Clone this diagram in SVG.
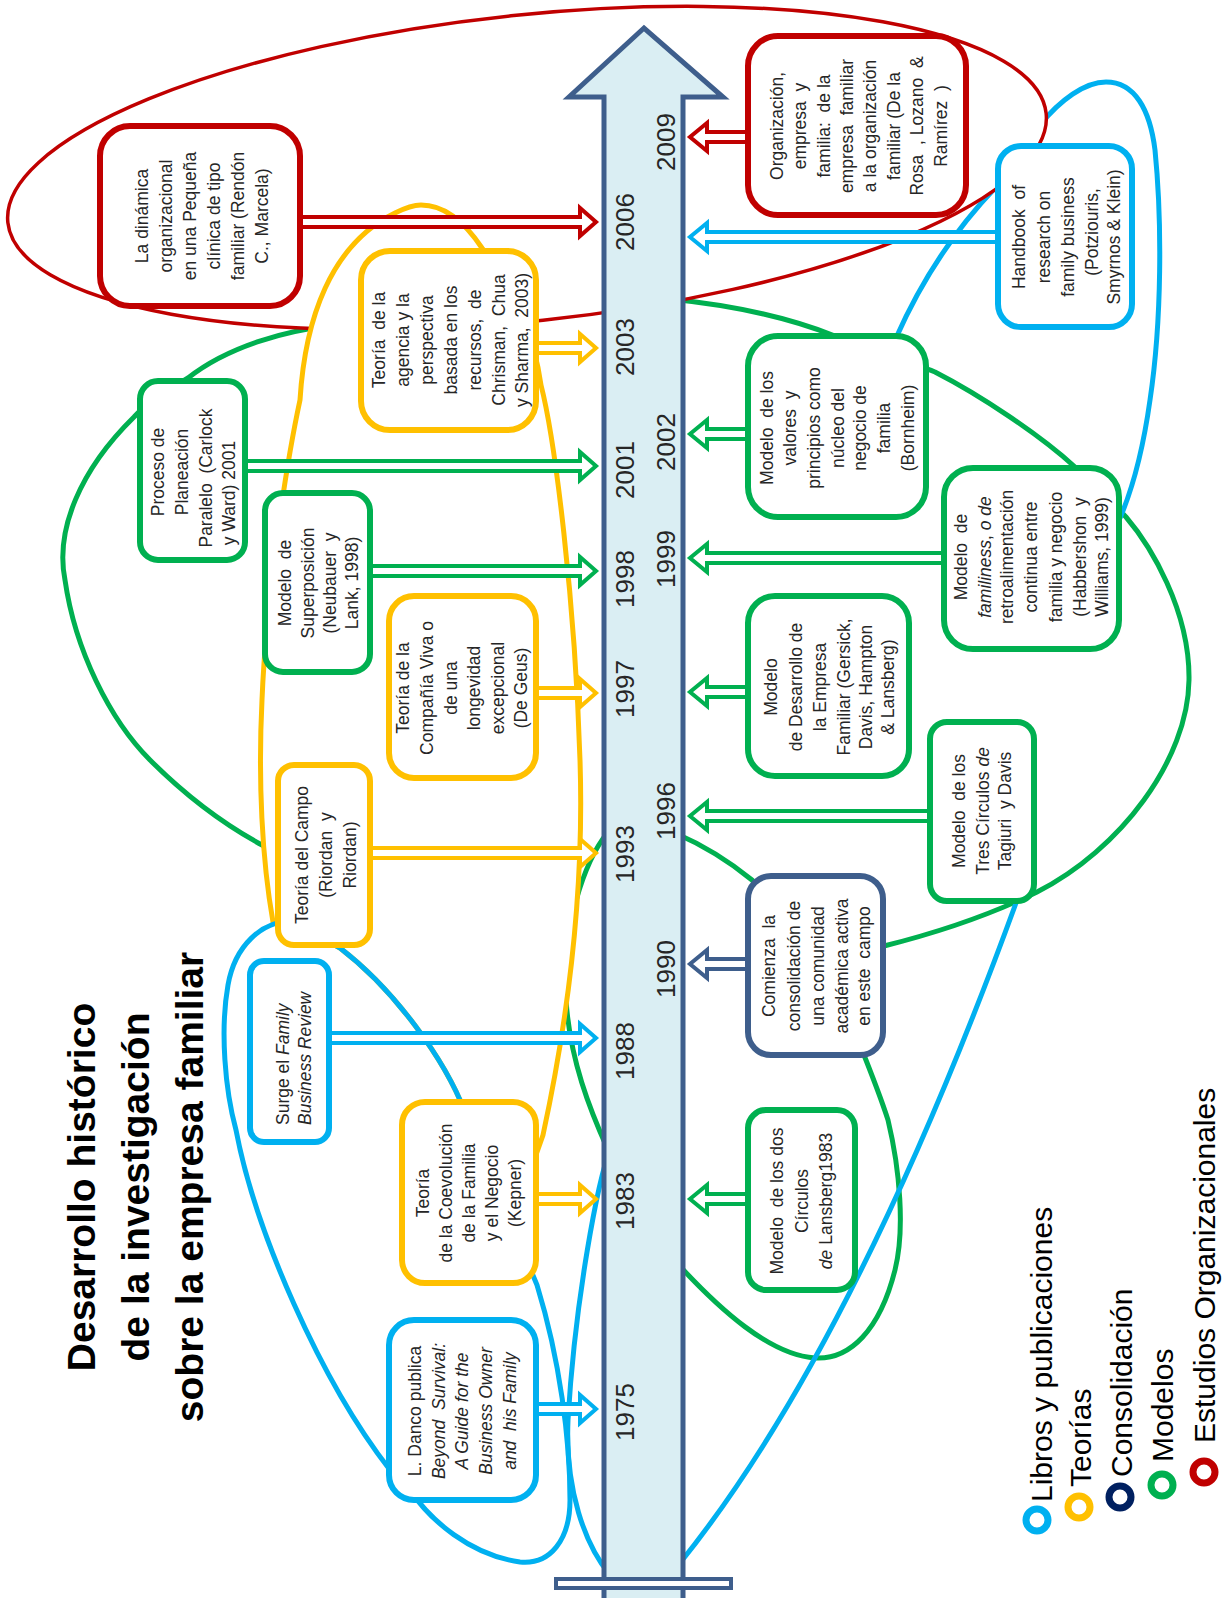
<svg xmlns="http://www.w3.org/2000/svg" width="1231" height="1598" viewBox="0 0 1231 1598">
<style>
.c{fill:none;stroke-width:5;stroke-linecap:round;stroke-linejoin:round}
.g{stroke:#00B050}.b{stroke:#00B0F0}.y{stroke:#FFC000}.r{stroke:#C00000}.n{stroke:#3E5E8C}
.box{fill:#fff;stroke-width:6}
.ar{fill:#fff;stroke-width:4;stroke-linejoin:miter}
.t{font-family:"Liberation Sans",Arial,sans-serif;font-size:17.5px;fill:#262626;text-anchor:middle}
.yr{font-family:"Liberation Sans",Arial,sans-serif;font-size:26px;fill:#262626;text-anchor:middle}
.ttl{font-family:"Liberation Sans",Arial,sans-serif;font-size:39px;font-weight:bold;fill:#000;text-anchor:middle}
.lg{font-family:"Liberation Sans",Arial,sans-serif;font-size:30px;fill:#000}
.i{font-style:italic}
.ring{fill:none;stroke-width:7}
</style>
<rect width="1231" height="1598" fill="#fff"/>

<g id="clusters">
<path class="c g" d="M 670,299 C 730,305 790,318 835,336 C 870,350 905,360 935,372 C 980,395 1040,435 1075,467 C 1095,485 1110,500 1126,517 C 1150,545 1190,610 1189,680 C 1188,760 1120,850 1037,892 C 990,915 940,932 884,946"/>
<path class="c g" d="M 330,326 C 290,330 230,345 188,378 C 160,395 145,405 134,417 C 80,470 55,530 65,580 C 75,650 110,720 150,760 C 185,795 225,825 262,845 L 290,852"/>
<path class="c g" d="M 675,833 C 705,846 730,862 752,880 L 775,905"/>
<path class="c g" d="M 608,832 C 585,860 560,930 566,1000 C 570,1060 590,1110 608,1150"/>
<path class="c g" d="M 860,1045 C 870,1070 880,1095 888,1120 C 900,1170 905,1230 895,1270 C 880,1330 850,1360 815,1358 C 770,1355 720,1310 676,1262"/>
<path class="c b" d="M 680,1563 Q 854,1347 1016,903"/>
<path class="c b" d="M 1040,125 C 1060,100 1085,82 1106,82 C 1135,82 1150,110 1155,150 C 1162,220 1162,320 1150,400 C 1143,450 1132,490 1120,518"/>
<path class="c b" d="M 995,188 Q 934,252 896,338"/>
<path class="c b" d="M 610,1150 C 598,1180 575,1300 568,1420 C 565,1490 585,1545 610,1575"/>
<ellipse cx="527" cy="168" rx="522" ry="153" transform="rotate(-6 527 168)" fill="#fff" stroke="#C00000" stroke-width="3.5"/>
<path class="y" fill="#fff" stroke-width="5" d="M 421,205 C 450,205 470,230 482,248 C 515,290 535,340 541,385 C 555,440 575,600 580,760 C 584,880 570,1010 543,1135 L 520,1200 L 465,1112 C 445,1060 395,990 340,948 L 300,925 L 273,922 C 262,860 258,780 262,700 C 266,600 285,470 300,400 C 305,320 330,245 395,213 C 405,208 413,205 421,205 Z"/>
<path class="c b" d="M 290,921 C 262,922 235,945 228,985 C 220,1030 225,1090 236,1130 C 255,1230 320,1380 390,1470 L 410,1490 C 430,1520 470,1555 520,1562 C 550,1565 570,1540 570,1500 C 570,1440 560,1360 537,1285 L 465,1112 C 445,1060 395,990 340,948 L 300,925"/>
</g>

<g id="timeline">
<polygon points="604,1610 604,97 569,97 644,28 723,97 683,97 683,1610" fill="#DAEEF3" stroke="#3E5E8C" stroke-width="5" stroke-linejoin="miter"/>
<rect x="556" y="1579" width="175" height="9" fill="#fff" stroke="#3E5E8C" stroke-width="4"/>
<text class="yr" transform="rotate(-90)"><tspan x="-1412" y="634">1975</tspan><tspan x="-1201" y="634">1983</tspan><tspan x="-1051" y="634">1988</tspan><tspan x="-854" y="634">1993</tspan><tspan x="-689" y="634">1997</tspan><tspan x="-579" y="634">1998</tspan><tspan x="-470" y="634">2001</tspan><tspan x="-347" y="634">2003</tspan><tspan x="-222" y="634">2006</tspan><tspan x="-969" y="675">1990</tspan><tspan x="-811" y="675">1996</tspan><tspan x="-559" y="675">1999</tspan><tspan x="-442" y="675">2002</tspan><tspan x="-142" y="675">2009</tspan></text>
</g>

<g id="connectors">
<polygon class="ar r" points="300,217 580,217 580,208 596,222 580,236 580,227 300,227"/>
<polygon class="ar y" points="536,343 580,343 580,334 596,348 580,362 580,353 536,353"/>
<polygon class="ar g" points="245,461 580,461 580,452 596,466 580,480 580,471 245,471"/>
<polygon class="ar g" points="370,566 580,566 580,557 596,571 580,585 580,576 370,576"/>
<polygon class="ar y" points="536,688 580,688 580,679 596,693 580,707 580,698 536,698"/>
<polygon class="ar y" points="370,848 580,848 580,839 596,853 580,867 580,858 370,858"/>
<polygon class="ar b" points="329,1033 580,1033 580,1024 596,1038 580,1052 580,1043 329,1043"/>
<polygon class="ar y" points="536,1194 580,1194 580,1185 596,1199 580,1213 580,1204 536,1204"/>
<polygon class="ar b" points="536,1404 580,1404 580,1395 596,1409 580,1423 580,1414 536,1414"/>
<polygon class="ar r" points="748,132 707,132 707,123 690,137 707,151 707,142 748,142"/>
<polygon class="ar b" points="998,232 707,232 707,223 690,237 707,251 707,242 998,242"/>
<polygon class="ar g" points="748,429 707,429 707,420 690,434 707,448 707,439 748,439"/>
<polygon class="ar g" points="944,553 707,553 707,544 690,558 707,572 707,563 944,563"/>
<polygon class="ar g" points="748,687 707,687 707,678 690,692 707,706 707,697 748,697"/>
<polygon class="ar g" points="930,811 707,811 707,802 690,816 707,830 707,821 930,821"/>
<polygon class="ar n" points="748,959 707,959 707,950 690,964 707,978 707,969 748,969"/>
<polygon class="ar g" points="748,1194 707,1194 707,1185 690,1199 707,1213 707,1204 748,1204"/>
</g>

<g id="n-dinamica"><rect class="box r" x="100" y="126" width="200" height="180" rx="30"/>
<text class="t" transform="rotate(-90)"><tspan x="-216" y="148">La dinámica</tspan><tspan x="-216" y="172">organizacional</tspan><tspan x="-216" y="196">en una Pequeña</tspan><tspan x="-216" y="220">clínica de tipo</tspan><tspan x="-216" y="244">familiar (Rendón</tspan><tspan x="-216" y="268">C., Marcela)</tspan></text></g>

<g id="n-agencia"><rect class="box y" x="361" y="251" width="175" height="179" rx="29"/>
<text class="t" transform="rotate(-90)"><tspan x="-340" y="385">Teoría&#160; de la</tspan><tspan x="-340" y="409">agencia y la</tspan><tspan x="-340" y="433">perspectiva</tspan><tspan x="-340" y="457">basada en los</tspan><tspan x="-340" y="481">recursos,&#160; de</tspan><tspan x="-340" y="505">Chrisman,&#160; Chua</tspan><tspan x="-340" y="528">y Sharma,&#160; 2003)</tspan></text></g>

<g id="n-proceso"><rect class="box g" x="140" y="381" width="105" height="179" rx="18"/>
<text class="t" transform="rotate(-90)"><tspan x="-472" y="164">Proceso de</tspan><tspan x="-472" y="188">Planeación</tspan><tspan x="-478" y="212">Paralelo&#160; (Carlock</tspan><tspan x="-493" y="235">y Ward) 2001</tspan></text></g>

<g id="n-superposicion"><rect class="box g" x="265" y="493" width="105" height="179" rx="18"/>
<text class="t" transform="rotate(-90)"><tspan x="-583" y="291">Modelo&#160; de</tspan><tspan x="-583" y="314">Superposición</tspan><tspan x="-583" y="336">(Neubauer&#160; y</tspan><tspan x="-583" y="358">Lank, 1998)</tspan></text></g>

<g id="n-degeus"><rect class="box y" x="389" y="596" width="147" height="182" rx="25"/>
<text class="t" transform="rotate(-90)"><tspan x="-688" y="409">Teoría de la</tspan><tspan x="-688" y="433">Compañía Viva o</tspan><tspan x="-688" y="457">de una</tspan><tspan x="-688" y="480">longevidad</tspan><tspan x="-688" y="504">excepcional</tspan><tspan x="-688" y="527">(De Geus)</tspan></text></g>

<g id="n-campo"><rect class="box y" x="278" y="765" width="92" height="180" rx="16"/>
<text class="t" transform="rotate(-90)"><tspan x="-855" y="308">Teoría del Campo</tspan><tspan x="-855" y="332">(Riordan&#160; y</tspan><tspan x="-855" y="356">Riordan)</tspan></text></g>

<g id="n-surge"><rect class="box b" x="250" y="961" width="79" height="181" rx="14"/>
<text class="t" transform="rotate(-90)" style="text-anchor:start"><tspan x="-1125" y="289">Surge el <tspan class="i">Family</tspan></tspan><tspan class="i" x="-1125" y="311">Business Review</tspan></text></g>

<g id="n-kepner"><rect class="box y" x="402" y="1102" width="134" height="181" rx="23"/>
<text class="t" transform="rotate(-90)"><tspan x="-1193" y="429">Teoría</tspan><tspan x="-1193" y="452">de la Coevolución</tspan><tspan x="-1193" y="475">de la Familia</tspan><tspan x="-1193" y="498">y el Negocio</tspan><tspan x="-1193" y="521">(Kepner)</tspan></text></g>

<g id="n-danco"><rect class="box b" x="389" y="1320" width="147" height="180" rx="25"/>
<text class="t" transform="rotate(-90)"><tspan x="-1411" y="421">L. Danco publica</tspan><tspan class="i" x="-1411" y="445">Beyond&#160; Survival:</tspan><tspan class="i" x="-1411" y="468">A Guide for the</tspan><tspan class="i" x="-1411" y="492">Business Owner</tspan><tspan class="i" x="-1411" y="516">and&#160; his Family</tspan></text></g>

<g id="n-org"><rect class="box r" x="748" y="36" width="218" height="179" rx="30"/>
<text class="t" transform="rotate(-90)"><tspan x="-126" y="783">Organización,</tspan><tspan x="-126" y="806">empresa&#160; y</tspan><tspan x="-126" y="830">familia:&#160; de la</tspan><tspan x="-126" y="853">empresa&#160; familiar</tspan><tspan x="-126" y="876">a la organización</tspan><tspan x="-126" y="900">familiar (De la</tspan><tspan x="-126" y="923">Rosa&#160; , Lozano&#160; &amp;</tspan><tspan x="-126" y="947">Ramírez&#160; )</tspan></text></g>

<g id="n-handbook"><rect class="box b" x="998" y="146" width="134" height="181" rx="23"/>
<text class="t" transform="rotate(-90)"><tspan x="-237" y="1025">Handbook&#160; of</tspan><tspan x="-237" y="1050">research on</tspan><tspan x="-237" y="1074">family business</tspan><tspan x="-232" y="1098">(Potziouris,</tspan><tspan x="-237" y="1120">Smyrnos &amp; Klein)</tspan></text></g>

<g id="n-bornheim"><rect class="box g" x="748" y="336" width="178" height="181" rx="30"/>
<text class="t" transform="rotate(-90)"><tspan x="-428" y="773">Modelo&#160; de los</tspan><tspan x="-428" y="796">valores&#160; y</tspan><tspan x="-428" y="820">principios como</tspan><tspan x="-428" y="844">núcleo del</tspan><tspan x="-428" y="866">negocio de</tspan><tspan x="-428" y="890">familia</tspan><tspan x="-428" y="914">(Bornheim)</tspan></text></g>

<g id="n-familiness"><rect class="box g" x="944" y="468" width="175" height="181" rx="29"/>
<text class="t" transform="rotate(-90)"><tspan x="-557" y="967">Modelo&#160; de</tspan><tspan x="-557" y="991"><tspan class="i">familiness</tspan>, <tspan class="i">o de</tspan></tspan><tspan x="-557" y="1013">retroalimentación</tspan><tspan x="-557" y="1037">continua entre</tspan><tspan x="-557" y="1062">familia y negocio</tspan><tspan x="-557" y="1086">(Habbershon&#160; y</tspan><tspan x="-557" y="1108">Williams, 1999)</tspan></text></g>

<g id="n-desarrollo"><rect class="box g" x="748" y="596" width="161" height="180" rx="27"/>
<text class="t" transform="rotate(-90)"><tspan x="-687" y="777">Modelo</tspan><tspan x="-687" y="802">de Desarrollo de</tspan><tspan x="-687" y="826">la Empresa</tspan><tspan x="-687" y="850">Familiar (Gersick,</tspan><tspan x="-687" y="872">Davis, Hampton</tspan><tspan x="-687" y="894">&amp; Lansberg)</tspan></text></g>

<g id="n-tres"><rect class="box g" x="930" y="722" width="104" height="179" rx="17"/>
<text class="t" transform="rotate(-90)"><tspan x="-811" y="965">Modelo&#160; de los</tspan><tspan x="-811" y="989">Tres Círculos <tspan class="i">de</tspan></tspan><tspan x="-811" y="1011">Tagiuri&#160; y Davis</tspan></text></g>

<g id="n-comienza"><rect class="box n" x="748" y="876" width="135" height="179" rx="23"/>
<text class="t" transform="rotate(-90)"><tspan x="-966" y="775">Comienza&#160; la</tspan><tspan x="-966" y="800">consolidación de</tspan><tspan x="-966" y="824">una comunidad</tspan><tspan x="-966" y="848">académica activa</tspan><tspan x="-966" y="870">en este&#160; campo</tspan></text></g>

<g id="n-lansberg"><rect class="box g" x="748" y="1110" width="107" height="180" rx="18"/>
<text class="t" transform="rotate(-90)"><tspan x="-1201" y="783">Modelo&#160; de los dos</tspan><tspan x="-1201" y="808">Círculos</tspan><tspan x="-1201" y="832"><tspan class="i">de</tspan> Lansberg1983</tspan></text></g>

<g id="title">
<text class="ttl" transform="rotate(-90)"><tspan x="-1187" y="95">Desarrollo histórico</tspan><tspan x="-1187" y="149">de la investigación</tspan><tspan x="-1187" y="203">sobre la empresa familiar</tspan></text>
</g>

<g id="legend">
<circle class="ring" cx="1037" cy="1520" r="11" stroke="#00B0F0"/>
<circle class="ring" cx="1079" cy="1507" r="11" stroke="#FFC000"/>
<circle class="ring" cx="1120" cy="1497" r="11" stroke="#002060"/>
<circle class="ring" cx="1162" cy="1485" r="11" stroke="#00B050"/>
<circle class="ring" cx="1204" cy="1472" r="11" stroke="#C00000"/>
<text class="lg" transform="rotate(-90)"><tspan x="-1502" y="1052">Libros y publicaciones</tspan><tspan x="-1487" y="1091">Teorías</tspan><tspan x="-1477" y="1132">Consolidación</tspan><tspan x="-1462" y="1173">Modelos</tspan><tspan x="-1443" y="1215">Estudios Organizacionales</tspan></text>
</g>
</svg>
